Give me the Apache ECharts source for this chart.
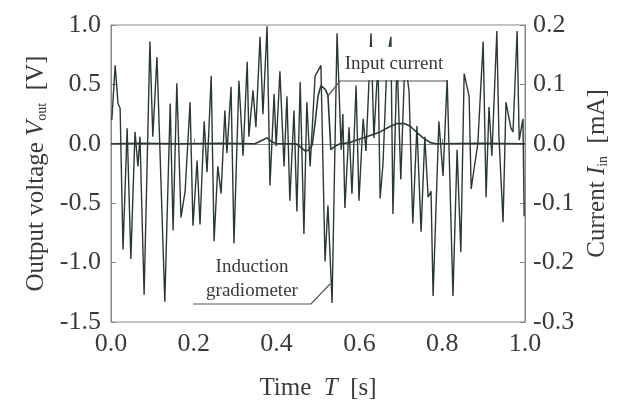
<!DOCTYPE html>
<html>
<head>
<meta charset="utf-8">
<script src="https://cdn.jsdelivr.net/npm/echarts@6/dist/echarts.min.js"></script>
<style>
  html, body { margin: 0; padding: 0; background: #fff; }
  #chart { width: 621px; height: 411px; }
</style>
</head>
<body>
<div id="chart"></div>
<script>
// gradiometer output, time [s] and voltage [V]
const timeV = [0.002, 0.010, 0.017, 0.022, 0.029, 0.039, 0.048, 0.058, 0.065, 0.070,
  0.080, 0.094, 0.101, 0.111, 0.130, 0.143, 0.150, 0.159, 0.169, 0.179,
  0.191, 0.198, 0.208, 0.215, 0.225, 0.232, 0.242, 0.249, 0.258, 0.266,
  0.275, 0.280, 0.290, 0.297, 0.309, 0.319, 0.329, 0.333, 0.343, 0.350,
  0.360, 0.367, 0.377, 0.384, 0.394, 0.399, 0.408, 0.418, 0.425, 0.432,
  0.442, 0.449, 0.457, 0.466, 0.473, 0.481, 0.493, 0.507, 0.517, 0.524,
  0.534, 0.546, 0.556, 0.560, 0.565, 0.575, 0.582, 0.592, 0.599, 0.609,
  0.616, 0.628, 0.635, 0.645, 0.650, 0.657, 0.667, 0.676, 0.681, 0.691,
  0.700, 0.710, 0.720, 0.729, 0.739, 0.749, 0.758, 0.766, 0.773, 0.778,
  0.792, 0.802, 0.812, 0.826, 0.836, 0.845, 0.853, 0.865, 0.870, 0.877,
  0.886, 0.899, 0.906, 0.913, 0.920, 0.932, 0.937, 0.947, 0.954, 0.966,
  0.971, 0.981, 0.986, 0.995, 0.998];
const voltage = [0.20, 0.66, 0.34, 0.30, -0.89, 0.13, -0.97, 0.10, -0.19, 0.06,
  -1.27, 0.86, 0.06, 0.73, -1.33, 0.34, -0.73, 0.51, -0.62, -0.40,
  0.35, -0.69, -0.14, -0.68, 0.19, -0.24, 0.57, -0.82, -0.19, -0.42,
  0.28, -0.08, 0.48, -0.84, 0.53, -0.10, 0.69, 0.06, 0.45, 0.14,
  0.90, 0.25, 0.99, -0.35, 0.42, -0.02, 0.61, -0.19, 0.40, -0.48,
  0.28, -0.57, 0.52, -0.76, 0.35, -0.19, 0.57, 0.66, -0.99, -0.52,
  -1.34, 0.93, -0.05, 0.25, -0.54, 0.14, -0.42, 0.49, -0.48, 0.21,
  -0.06, 0.93, 0.05, 0.70, -0.46, -0.17, 0.72, 0.90, -0.59, 0.72,
  -0.30, 0.72, 0.44, -0.67, 0.15, -0.74, 0.06, -0.45, -0.40, -1.28,
  0.19, -0.27, 0.55, -1.28, -0.05, -0.91, 0.59, 0.40, -0.38, -0.21,
  0.00, 0.86, -0.45, 0.31, -0.10, 0.95, 0.07, -0.66, 0.35, 0.13,
  0.10, 0.95, 0.03, 0.21, -0.61];

// input current, time [s] and current [mA]
const timeI = [0.000, 0.070, 0.167, 0.263, 0.348, 0.365, 0.377, 0.389, 0.401, 0.447,
  0.457, 0.469, 0.478, 0.486, 0.493, 0.500, 0.507, 0.517, 0.524, 0.531,
  0.541, 0.553, 0.577, 0.601, 0.626, 0.650, 0.674, 0.691, 0.708, 0.722,
  0.739, 0.754, 0.771, 0.785, 0.891, 1.000];
const current = [0, 0.001, 0, 0.001, 0, 0.006, 0.010, 0.003, 0, 0,
  -0.005, -0.012, -0.011, -0.002, 0.035, 0.080, 0.098, 0.092, 0.082, -0.010,
  -0.004, 0, 0.002, 0.008, 0.014, 0.020, 0.029, 0.034, 0.034, 0.030,
  0.019, 0.010, 0.002, 0, 0.001, 0];

const serif = 'Liberation Serif';
const ink = '#3a3a3a';
const lineInk = '#2e3832';

const chart = echarts.init(document.getElementById('chart'));

const nameRich = {
  a: { fontFamily: serif, fontSize: 25, color: ink },
  i: { fontFamily: serif, fontSize: 25, color: ink, fontStyle: 'italic' },
  s: { fontFamily: serif, fontSize: 14, color: ink, verticalAlign: 'bottom', padding: [12, 0, 0, 0] }
};

chart.setOption({
  animation: false,
  backgroundColor: '#fff',
  grid: { left: 111, right: 96, top: 25, bottom: 89, show: true, borderColor: '#888', borderWidth: 1 },
  xAxis: {
    type: 'value', min: 0, max: 1, interval: 0.2,
    name: '{a|Time  }{i|T}{a|  [s]}', nameLocation: 'middle', nameGap: 54,
    nameTextStyle: { rich: nameRich },
    axisLine: { lineStyle: { color: '#888' } },
    axisTick: { inside: true, length: 5, lineStyle: { color: '#888' } },
    splitLine: { show: false },
    axisLabel: { fontFamily: serif, fontSize: 26, color: ink, margin: 9, formatter: v => v.toFixed(1) }
  },
  yAxis: [{
    type: 'value', min: -1.5, max: 1.0, interval: 0.5,
    name: '{a|Output voltage }{i|V}{s|out}{a|  [V]}', nameLocation: 'middle', nameGap: 50,
    nameTextStyle: { rich: nameRich },
    axisLine: { show: true, lineStyle: { color: '#888' } },
    axisTick: { show: true, inside: true, length: 5, lineStyle: { color: '#888' } },
    splitLine: { show: false },
    axisLabel: { fontFamily: serif, fontSize: 26, color: ink, margin: 10, formatter: v => v.toFixed(1) }
  }, {
    type: 'value', min: -0.3, max: 0.2, interval: 0.1, position: 'right',
    name: '{a|Current }{i|I}{s|in}{a|  [mA]}', nameLocation: 'middle', nameGap: 50, nameRotate: 90,
    nameTextStyle: { rich: nameRich },
    axisLine: { show: true, lineStyle: { color: '#888' } },
    axisTick: { show: true, inside: true, length: 5, lineStyle: { color: '#888' } },
    splitLine: { show: false },
    axisLabel: { fontFamily: serif, fontSize: 26, color: ink, margin: 8, formatter: v => v.toFixed(1) }
  }],
  series: [{
    type: 'line', yAxisIndex: 0, showSymbol: false, z: 2,
    lineStyle: { color: lineInk, width: 1.4 },
    data: timeV.map((t, k) => [t, voltage[k]])
  }, {
    type: 'line', yAxisIndex: 1, showSymbol: false, z: 3,
    lineStyle: { color: lineInk, width: 1.6 },
    data: timeI.map((t, k) => [t, current[k]])
  }],
  graphic: [
    // "Input current" label with its white box and leader
    { type: 'rect', z: 10, shape: { x: 341, y: 47, width: 107, height: 33 }, style: { fill: '#fff' } },
    { type: 'text', z: 11, x: 394, y: 64, style: { text: 'Input current', font: '19px "Liberation Serif"', fill: ink, align: 'center', verticalAlign: 'middle' } },
    { type: 'polyline', z: 11, shape: { points: [[327, 97], [340, 81], [448, 81]] }, style: { stroke: '#555', lineWidth: 1.2, fill: null } },
    // "Induction gradiometer" label
    { type: 'rect', z: 10, shape: { x: 200, y: 255, width: 104, height: 47 }, style: { fill: '#fff' } },
    { type: 'text', z: 11, x: 252, y: 267, style: { text: 'Induction', font: '19px "Liberation Serif"', fill: ink, align: 'center', verticalAlign: 'middle' } },
    { type: 'text', z: 11, x: 252, y: 291, style: { text: 'gradiometer', font: '19px "Liberation Serif"', fill: ink, align: 'center', verticalAlign: 'middle' } },
    { type: 'polyline', z: 11, shape: { points: [[193, 304], [311, 304], [330, 284]] }, style: { stroke: '#555', lineWidth: 1.2, fill: null } }
  ]
});
</script>
</body>
</html>
